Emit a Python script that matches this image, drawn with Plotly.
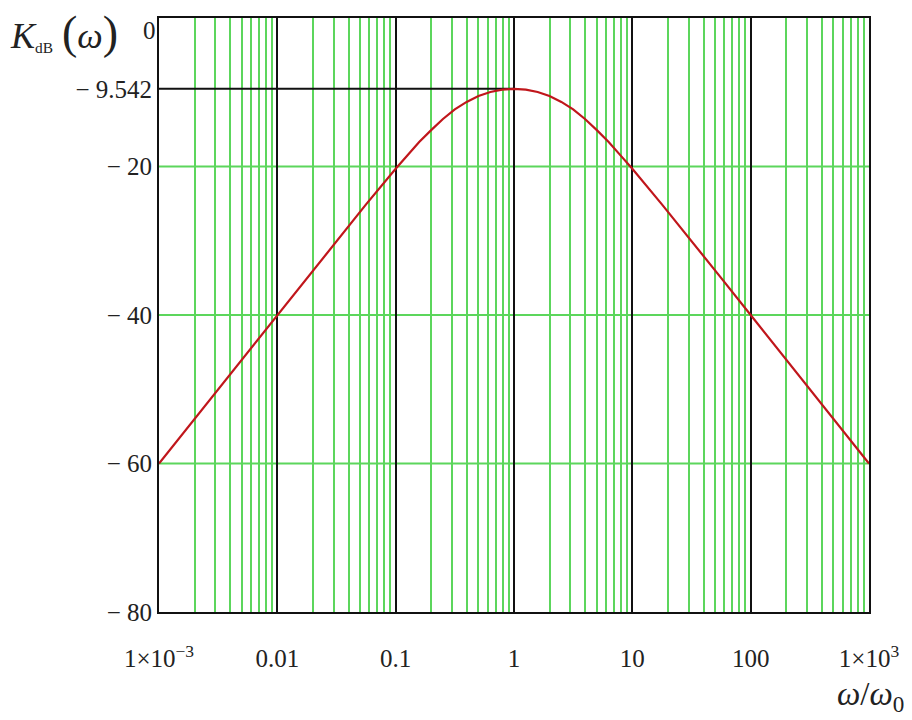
import plotly.graph_objects as go

# Curve: normalized frequency ω/ω0 and gain K_dB
omega = [0.001, 0.00316, 0.01, 0.0178, 0.0316, 0.0562, 0.1, 0.126, 0.158, 0.1995, 0.251,
         0.316, 0.398, 0.501, 0.631, 0.794, 1.0, 1.259, 1.585, 1.995, 2.512, 3.162, 3.981,
         5.012, 6.31, 7.943, 10.0, 17.78, 31.62, 56.23, 100.0, 316.2, 1000.0]
k_db = [-60.0, -50.0, -40.0, -35.0, -30.0, -25.1, -20.3, -18.5, -16.7, -15.1, -13.6,
        -12.3, -11.3, -10.5, -9.96, -9.65, -9.542, -9.65, -9.96, -10.5, -11.3, -12.3, -13.6,
        -15.1, -16.7, -18.5, -20.3, -25.1, -30.0, -35.0, -40.0, -50.0, -60.0]

# Peak marker (−9.542 dB at ω/ω0 = 1)
marker_x = [0.001, 1.0]
marker_y = [-9.542, -9.542]

x_tickvals = [0.001, 0.01, 0.1, 1, 10, 100, 1000]
x_ticktext = ["1×10<sup>−3</sup>", "0.01", "0.1", "1", "10", "100", "1×10<sup>3</sup>"]
y_tickvals = [-9.542, -20, -40, -60, -80]
y_ticktext = ["− 9.542", "− 20", "− 40", "− 60", "− 80"]
y_top_value = 0
y_top_label = "0"
y_gridvals = [-20, -40, -60]

GREEN = "#5cd65c"
FONT = "Liberation Serif"
TXT = "#222222"

fig = go.Figure()
fig.add_trace(go.Scatter(x=marker_x, y=marker_y, mode="lines",
                         line=dict(color="#111111", width=2), hoverinfo="skip"))
fig.add_trace(go.Scatter(x=omega, y=k_db, mode="lines",
                         line=dict(color="#c0161b", width=2.2)))

for v in y_gridvals:
    fig.add_shape(type="line", xref="paper", yref="y", x0=0, x1=1, y0=v, y1=v,
                  line=dict(color=GREEN, width=2), layer="below")

fig.update_layout(
    width=904, height=712,
    margin=dict(l=151, r=43, t=10, b=108, autoexpand=False),
    paper_bgcolor="white", plot_bgcolor="white",
    showlegend=False,
    font=dict(family=FONT, size=25, color=TXT),
    xaxis=dict(
        type="log", range=[-3, 3], automargin=False,
        tickvals=x_tickvals, ticktext=x_ticktext,
        ticks="outside", ticklen=23, tickcolor="rgba(0,0,0,0)",
        showgrid=True, gridcolor="#111111", gridwidth=2,
        minor=dict(dtick="D1", showgrid=True, gridcolor=GREEN, gridwidth=2),
        showline=True, linecolor="#111111", linewidth=2, mirror=True,
        zeroline=False,
        tickfont=dict(family=FONT, size=25, color=TXT),
    ),
    yaxis=dict(
        range=[-80, 0], automargin=False,
        tickvals=y_tickvals, ticktext=y_ticktext,
        showgrid=False, zeroline=False,
        showline=True, linecolor="#111111", linewidth=2, mirror=True,
        ticks="", tickfont=dict(family=FONT, size=25, color=TXT),
    ),
)

# top "0" label, sitting just below the upper border as in the reference
fig.add_annotation(
    xref="paper", yref="y", x=0, y=y_top_value, xanchor="right", yanchor="top",
    xshift=-1, yshift=3, showarrow=False, text=y_top_label,
    font=dict(family=FONT, size=25, color=TXT),
)
fig.add_annotation(
    xref="paper", yref="paper", x=-0.212, y=0.975, xanchor="left", yanchor="middle",
    showarrow=False,
    text=("<i>K</i><span style='font-size:22px'><sub>dB</sub></span> "
          "<span style='font-size:46px'>(</span><i>ω</i><span style='font-size:46px'>)</span>"),
    font=dict(family=FONT, size=36, color=TXT),
)
fig.add_annotation(
    xref="paper", yref="paper", x=1.052, y=-0.18, xanchor="right", yanchor="bottom",
    showarrow=False,
    text="<i>ω</i>/<i>ω</i><sub>0</sub>",
    font=dict(family=FONT, size=33, color=TXT),
)

fig.write_html("out.html")
